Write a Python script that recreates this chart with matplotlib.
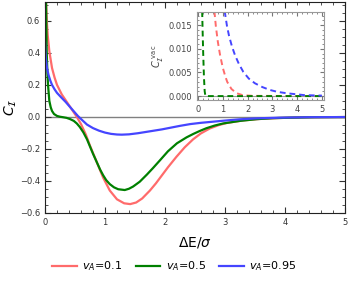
import numpy as np
import matplotlib
matplotlib.use("Agg")
import matplotlib.pyplot as plt
from matplotlib.ticker import MultipleLocator

# main panel, values
x_red = [0.01, 0.017, 0.03, 0.045, 0.072, 0.117, 0.16, 0.2, 0.28, 0.37, 0.45, 0.53, 0.6, 0.68, 0.75,
         0.86, 0.97, 1.08, 1.2, 1.32, 1.42, 1.52, 1.62, 1.75, 1.85, 1.92, 2.05, 2.19, 2.33, 2.47, 2.6,
         2.75, 2.9, 3.03, 3.3, 3.58, 3.9, 4.3, 5.0]
y_red = [0.85, 0.72, 0.6, 0.51, 0.41, 0.305, 0.245, 0.2, 0.14, 0.09, 0.045, 0.0, -0.045, -0.11, -0.18,
         -0.28, -0.38, -0.46, -0.515, -0.54, -0.545, -0.535, -0.51, -0.46, -0.415, -0.38, -0.315, -0.25,
         -0.19, -0.14, -0.103, -0.072, -0.051, -0.038, -0.022, -0.013, -0.007, -0.003, -0.001]

x_green = [0.01, 0.017, 0.028, 0.04, 0.05, 0.072, 0.095, 0.117, 0.15, 0.2, 0.25, 0.3, 0.36, 0.42, 0.48,
           0.53, 0.58, 0.64, 0.7, 0.75, 0.8, 0.86, 0.92, 0.97, 1.02, 1.08, 1.15, 1.22, 1.33, 1.4, 1.47,
           1.58, 1.7, 1.8, 1.92, 2.05, 2.2, 2.36, 2.47, 2.58, 2.69, 2.83, 2.97, 3.25, 3.53, 3.8, 4.08,
           4.5, 5.0]
y_green = [0.9, 0.72, 0.41, 0.27, 0.2, 0.1, 0.06, 0.037, 0.018, 0.006, 0.001, -0.002, -0.006, -0.014,
           -0.025, -0.041, -0.063, -0.097, -0.14, -0.185, -0.23, -0.28, -0.33, -0.365, -0.395, -0.42,
           -0.44, -0.452, -0.457, -0.449, -0.435, -0.405, -0.36, -0.32, -0.27, -0.215, -0.165, -0.128,
           -0.107, -0.088, -0.071, -0.054, -0.041, -0.025, -0.014, -0.008, -0.005, -0.002, -0.001]

x_blue = [0.0, 0.006, 0.015, 0.033, 0.06, 0.09, 0.117, 0.16, 0.2, 0.27, 0.34, 0.41, 0.48, 0.55, 0.62,
          0.7, 0.8, 0.9, 1.0, 1.1, 1.2, 1.28, 1.4, 1.55, 1.7, 1.8, 1.95, 2.1, 2.25, 2.42, 2.6, 2.8,
          2.97, 3.25, 3.53, 3.9, 4.4, 5.0]
y_blue = [0.47, 0.41, 0.36, 0.305, 0.26, 0.225, 0.2, 0.172, 0.15, 0.122, 0.095, 0.065, 0.035, 0.005,
          -0.02, -0.048, -0.07, -0.086, -0.098, -0.106, -0.11, -0.111, -0.109, -0.102, -0.093, -0.087,
          -0.078, -0.067, -0.056, -0.045, -0.037, -0.03, -0.024, -0.015, -0.009, -0.005, -0.002, -0.001]

# inset (vacuum contribution)
xv_red = [0.65, 0.67, 0.72, 0.8, 0.89, 1.0, 1.1, 1.18, 1.35, 1.56, 1.8, 2.2, 5.0]
yv_red = [0.02, 0.0175, 0.0148, 0.0115, 0.0087, 0.006, 0.0042, 0.003, 0.0015, 0.0006, 0.0002, 0.00005, 0.0]
xv_green = [0.16, 0.17, 0.19, 0.21, 0.24, 0.27, 0.3, 1.0, 5.0]
yv_green = [0.02, 0.0175, 0.013, 0.009, 0.004, 0.001, 0.0, 0.0, 0.0]
xv_blue = [1.05, 1.09, 1.17, 1.25, 1.37, 1.49, 1.65, 1.83, 2.05, 2.3, 2.6, 2.9, 3.2, 3.58, 4.3, 5.0]
yv_blue = [0.02, 0.0175, 0.0148, 0.0128, 0.0105, 0.0087, 0.0068, 0.0051, 0.0037, 0.0027, 0.0019,
           0.0013, 0.0009, 0.0006, 0.0002, 0.0001]

labels = ["$v_A$=0.1", "$v_A$=0.5", "$v_A$=0.95"]
colors = ["#ff6b6b", "#008000", "#4545ff"]

fig = plt.figure(figsize=(3.49, 2.82), dpi=100)
ax = fig.add_axes([0.129, 0.245, 0.859, 0.749])

ax.axhline(0, color="#808080", lw=1.0, zorder=1)
for xs, ys, c, lab in zip([x_red, x_green, x_blue], [y_red, y_green, y_blue], colors, labels):
    ax.plot(xs, ys, color=c, lw=1.6, label=lab, solid_joinstyle="round")

ax.set_xlim(0, 5)
ax.set_ylim(-0.6, 0.72)
ax.xaxis.set_major_locator(MultipleLocator(1))
ax.xaxis.set_minor_locator(MultipleLocator(0.2))
ax.yaxis.set_major_locator(MultipleLocator(0.2))
ax.yaxis.set_minor_locator(MultipleLocator(0.05))
ax.tick_params(which="both", direction="in", top=True, right=True, labelsize=6, colors="#333333")
ax.tick_params(which="major", length=4)
ax.tick_params(which="minor", length=2)
ax.set_yticks([-0.6, -0.4, -0.2, 0.0, 0.2, 0.4, 0.6])
ax.set_yticklabels(["\u22120.6", "\u22120.4", "\u22120.2", "0.0", "0.2", "0.4", "0.6"])
for s in ax.spines.values():
    s.set_color("#222222")
ax.set_xlabel("$\\Delta$E/$\\sigma$", fontsize=10, labelpad=6)
ax.set_ylabel("$C_{\\mathcal{I}}$", fontsize=10, labelpad=1)

# inset
ins = fig.add_axes([0.5645, 0.645, 0.3635, 0.312])
ins.axhline(0, color="#999999", lw=0.8, zorder=1)
for xs, ys, c in zip([xv_red, xv_green, xv_blue], [yv_red, yv_green, yv_blue], colors):
    ins.plot(xs, ys, color=c, lw=1.4, dashes=(3, 2))
ins.set_xlim(-0.04, 5.08)
ins.set_ylim(-0.00085, 0.01775)
ins.xaxis.set_major_locator(MultipleLocator(1))
ins.xaxis.set_minor_locator(MultipleLocator(0.2))
ins.yaxis.set_major_locator(MultipleLocator(0.005))
ins.yaxis.set_minor_locator(MultipleLocator(0.001))
ins.set_yticks([0.0, 0.005, 0.010, 0.015])
ins.set_yticklabels(["0.000", "0.005", "0.010", "0.015"])
ins.tick_params(which="both", direction="in", top=True, right=True, labelsize=6,
                colors="#777777", labelcolor="#444444")
ins.tick_params(which="major", length=3)
ins.tick_params(which="minor", length=1.5)
for s in ins.spines.values():
    s.set_color("#999999")
ins.set_ylabel("$C_{\\mathcal{I}}^{\\ \\mathrm{vac}}$", fontsize=7, color="#444444", labelpad=2)

fig.legend(loc="center", bbox_to_anchor=(0.5, 0.055), ncol=3, frameon=False,
           fontsize=8, handlelength=2.2, columnspacing=1.2, handletextpad=0.5)

fig.savefig("out.png", dpi=100)
